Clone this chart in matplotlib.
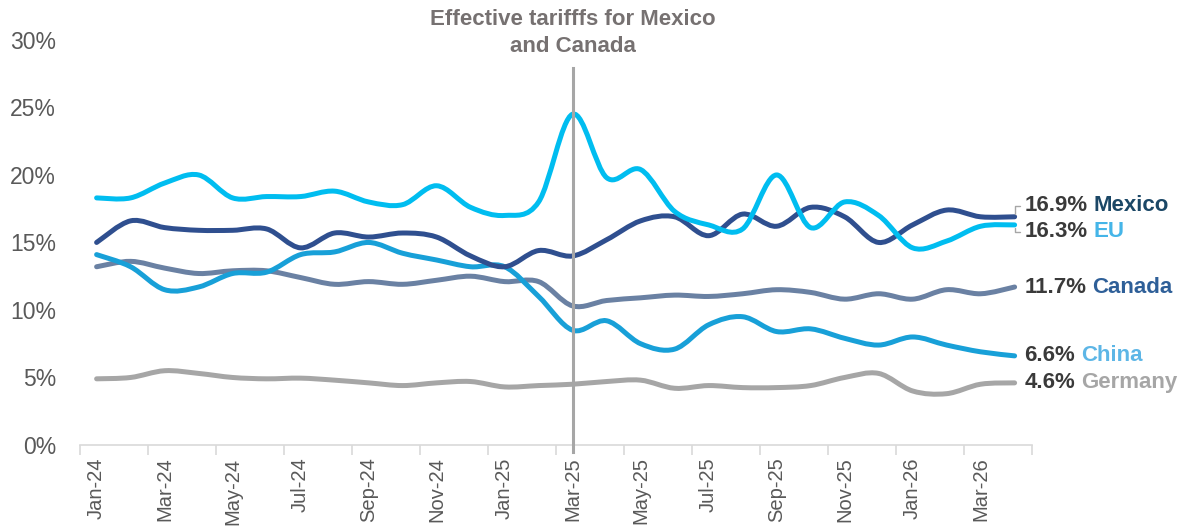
import numpy as np
import matplotlib.pyplot as plt
from matplotlib.path import Path
from matplotlib.patches import PathPatch

plt.rcParams['font.family'] = ['Liberation Sans', 'DejaVu Sans']

months = ['Jan-24', 'Feb-24', 'Mar-24', 'Apr-24', 'May-24', 'Jun-24', 'Jul-24',
          'Aug-24', 'Sep-24', 'Oct-24', 'Nov-24', 'Dec-24', 'Jan-25', 'Feb-25',
          'Mar-25', 'Apr-25', 'May-25', 'Jun-25', 'Jul-25', 'Aug-25', 'Sep-25',
          'Oct-25', 'Nov-25', 'Dec-25', 'Jan-26', 'Feb-26', 'Mar-26', 'Apr-26']

# effective tariff rates, %
mexico = [15.0, 16.6, 16.1, 15.9, 15.9, 16.0, 14.6, 15.7, 15.4, 15.7, 15.4, 14.0, 13.2, 14.4,
          14.0, 15.2, 16.6, 16.9, 15.5, 17.1, 16.2, 17.6, 16.9, 15.0, 16.3, 17.4, 16.9, 16.9]
eu = [18.3, 18.3, 19.4, 20.0, 18.3, 18.4, 18.4, 18.8, 18.0, 17.8, 19.2, 17.6, 17.0, 18.0,
      24.5, 19.8, 20.4, 17.3, 16.3, 16.0, 20.0, 16.1, 18.0, 17.0, 14.6, 15.1, 16.2, 16.3]
canada = [13.2, 13.6, 13.1, 12.7, 12.9, 12.9, 12.4, 11.9, 12.1, 11.9, 12.2, 12.5, 12.1, 12.1,
          10.3, 10.7, 10.9, 11.1, 11.0, 11.2, 11.5, 11.3, 10.8, 11.2, 10.8, 11.5, 11.2, 11.7]
china = [14.1, 13.2, 11.5, 11.7, 12.7, 12.8, 14.1, 14.3, 15.0, 14.2, 13.7, 13.2, 13.2, 11.0,
         8.5, 9.2, 7.5, 7.1, 8.9, 9.5, 8.4, 8.6, 7.9, 7.4, 8.0, 7.4, 6.9, 6.6]
germany = [4.9, 5.0, 5.5, 5.3, 5.0, 4.9, 4.95, 4.8, 4.6, 4.4, 4.6, 4.7, 4.3, 4.4,
           4.5, 4.7, 4.8, 4.2, 4.4, 4.25, 4.25, 4.4, 5.0, 5.3, 4.0, 3.8, 4.5, 4.6]

event_month = 'Mar-25'
title = 'Effective tarifffs for Mexico\nand Canada'

series = [
    # name, values, line colour, label colour, label offset (pt)
    ('Germany', germany, '#A6A6A6', '#A6A6A6', 0),
    ('Canada', canada, '#6A81A3', '#2E5F98', 0),
    ('China', china, '#18A0D8', '#5DB6E6', 0),
    ('Mexico', mexico, '#2F4F8F', '#1B4766', 8),
    ('EU', eu, '#00BDF0', '#45B5E8', -5),
]


def smooth_path(x, y):
    # cubic bezier through every point, catmull-rom style tangents
    p = np.column_stack([x, y]).astype(float)
    ext = np.vstack([p[0], p, p[-1]])
    verts = [p[0]]
    codes = [Path.MOVETO]
    for i in range(len(p) - 1):
        a, b, c, d = ext[i], ext[i + 1], ext[i + 2], ext[i + 3]
        verts += [b + (c - a) / 6, c - (d - b) / 6, c]
        codes += [Path.CURVE4] * 3
    return Path(verts, codes)


fig = plt.figure(figsize=(11.9, 5.31), dpi=100)
ax = fig.add_axes([0.0669, 0.162, 0.8, 0.7628])

x = np.arange(len(months))
for name, vals, lc, tc, dy in series:
    ax.add_patch(PathPatch(smooth_path(x, vals), fill=False, edgecolor=lc, lw=3.6,
                           capstyle='round', joinstyle='round'))
    last = vals[-1]
    arrow = None
    if dy:
        arrow = dict(arrowstyle='-', color='#A6A6A6', lw=1, shrinkA=1, shrinkB=2,
                     connectionstyle='angle,angleA=180,angleB=90,rad=0')
    val_txt = ax.annotate(f'{last:.1f}%', xy=(x[-1], last), xytext=(7, dy),
                          textcoords='offset points', ha='left', va='center',
                          fontsize=16, fontweight='bold', color='#3A3A3A',
                          annotation_clip=False, arrowprops=arrow)
    ax.annotate(name, xy=(1, 0.5), xycoords=val_txt, xytext=(4, 0),
                textcoords='offset points', ha='left', va='center',
                fontsize=16, fontweight='bold', color=tc)

ev = months.index(event_month)
ax.plot([ev, ev], [-0.5, 27.9], color='#A6A6A6', lw=2.2, clip_on=False, zorder=5)
ax.text(ev, 30.5, title, ha='center', va='center', fontsize=16, fontweight='bold',
        color='#767171', linespacing=1.35)

ax.set_xlim(-0.5, len(months) - 0.5)
ax.set_ylim(0, 30)
ax.set_yticks(np.arange(0, 31, 5))
ax.set_yticklabels([f'{v}%' for v in range(0, 31, 5)])
ax.set_xticks(x[::2])
ax.set_xticklabels(months[::2], rotation=90)
ax.set_xticks(np.arange(-0.5, len(months), 2), minor=True)
ax.tick_params(axis='x', which='major', length=0, pad=9, labelsize=14.5, labelcolor='#595959')
ax.tick_params(axis='x', which='minor', length=7, color='#D9D9D9', width=1.2)
ax.tick_params(axis='y', length=0, pad=17, labelsize=16.5, labelcolor='#595959')

for s in ['top', 'right', 'left']:
    ax.spines[s].set_visible(False)
ax.spines['bottom'].set_color('#D9D9D9')
ax.spines['bottom'].set_linewidth(1.2)

fig.savefig('out.png', dpi=100)
